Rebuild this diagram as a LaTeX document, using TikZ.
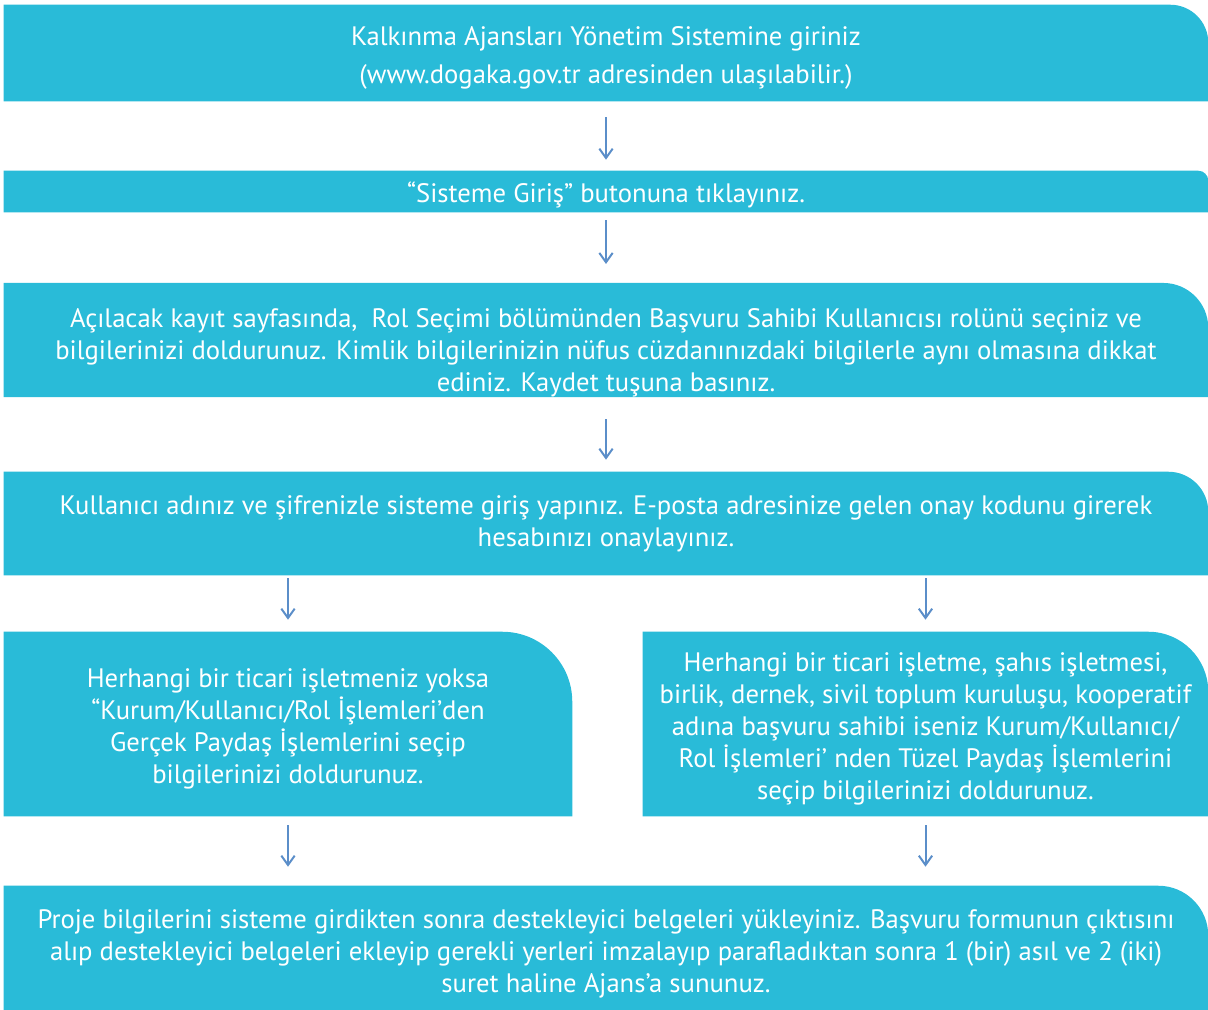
\documentclass[tikz,border=0pt]{standalone}
\usepackage{fontspec}
\setmainfont{PT Sans}
\usepackage{tikz}
\usetikzlibrary{arrows.meta, backgrounds}
\usetikzlibrary{positioning}

\definecolor{boxblue}{HTML}{29BBD8}
\definecolor{arrowblue}{HTML}{5B8EC9}

\newcommand{\cornerfill}[2]{%
	\fill[boxblue] (#1.south west) -- (#1.north west) -- ([xshift=-#2]#1.north east)
		arc[start angle=90, end angle=0, radius=#2] -- (#1.south east) -- cycle;}
\newcommand{\topgap}[1]{\rule{0pt}{#1}}

\begin{document}
\begin{tikzpicture}[x=0.75pt,y=-0.75pt,font=\fontsize{20}{24}\selectfont]

		\tikzstyle{stepbox}=[text=white,align=center,inner sep=0pt,minimum width=903pt]
		\tikzstyle{half box}=[stepbox,minimum height=138pt]
		\tikzstyle{down}=[draw=arrowblue,line width=1.5pt,-{Straight Barb[length=7pt,width=10pt]}]

		\useasboundingbox (0,0) rectangle (1208,1010);

		\node [stepbox, minimum height=72pt, font=\fontsize{20}{29}\selectfont] (login) at (606,53)
			{\topgap{21.5pt}Kalkınma Ajansları Yönetim Sistemine giriniz\\(www.dogaka.gov.tr adresinden ulaşılabilir.)};
		\node [stepbox, minimum height=30.75pt] (button) at (606,191.5)
			{\topgap{20pt}“Sisteme Giriş” butonuna tıklayınız.};
		\node [stepbox, minimum height=84pt] (register) at (606,340)
			{\topgap{33pt}Açılacak kayıt sayfasında, \ Rol Seçimi bölümünden Başvuru Sahibi Kullanıcısı rolünü seçiniz ve\\
			bilgilerinizi doldurunuz. Kimlik bilgilerinizin nüfus cüzdanınızdaki bilgilerle aynı olmasına dikkat\\
			ediniz. Kaydet tuşuna basınız.};
		\node [stepbox, minimum height=77.25pt] (confirm) at (606,523.5)
			{Kullanıcı adınız ve şifrenizle sisteme giriş yapınız. E-posta adresinize gelen onay kodunu girerek\\
			hesabınızı onaylayınız.};
		\node [half box, minimum width=426pt] (person) at (288,724)
			{\topgap{21.5pt}Herhangi bir ticari işletmeniz yoksa\\“Kurum/Kullanıcı/Rol İşlemleri’den\\
			Gerçek Paydaş İşlemlerini seçip\\bilgilerinizi doldurunuz.};
		\node [half box, minimum width=423.75pt] (entity) at (925.5,724)
			{\topgap{21.5pt}Herhangi bir ticari işletme, şahıs işletmesi,\\birlik, dernek, sivil toplum kuruluşu, kooperatif\\
			adına başvuru sahibi iseniz Kurum/Kullanıcı/\\Rol İşlemleri’ nden Tüzel Paydaş İşlemlerini\\
			seçip bilgilerinizi doldurunuz.};
		\node [stepbox, minimum height=93pt] (submit) at (606,948)
			{\topgap{23pt}Proje bilgilerini sisteme girdikten sonra destekleyici belgeleri yükleyiniz. Başvuru formunun çıktısını\\
			alıp destekleyici belgeleri ekleyip gerekli yerleri imzalayıp parafladıktan sonra 1 (bir) asıl ve 2 (iki)\\
			suret haline Ajans’a sununuz.};

		\begin{scope}[on background layer]
			\cornerfill{login}{28.5pt}
			\cornerfill{button}{7.5pt}
			\cornerfill{register}{33.75pt}
			\cornerfill{confirm}{30pt}
			\cornerfill{person}{52.5pt}
			\cornerfill{entity}{45pt}
			\cornerfill{submit}{37.5pt}
		\end{scope}

		\draw [down, shorten <=12pt, shorten >=8.25pt] (login) -- (button);
		\draw [down, shorten <=6pt, shorten >=14.25pt] (button) -- (register);
		\draw [down, shorten <=16.5pt, shorten >=9pt] (register) -- (confirm);
		\draw [down, shorten <=2.25pt, shorten >=9pt] (confirm.south -| person) -- (person);
		\draw [down, shorten <=2.25pt, shorten >=9pt] (confirm.south -| entity) -- (entity);
		\draw [down, shorten <=6.75pt, shorten >=14.25pt] (person) -- (submit.north -| person);
		\draw [down, shorten <=6.75pt, shorten >=14.25pt] (entity) -- (submit.north -| entity);
	\end{tikzpicture}
\end{document}
